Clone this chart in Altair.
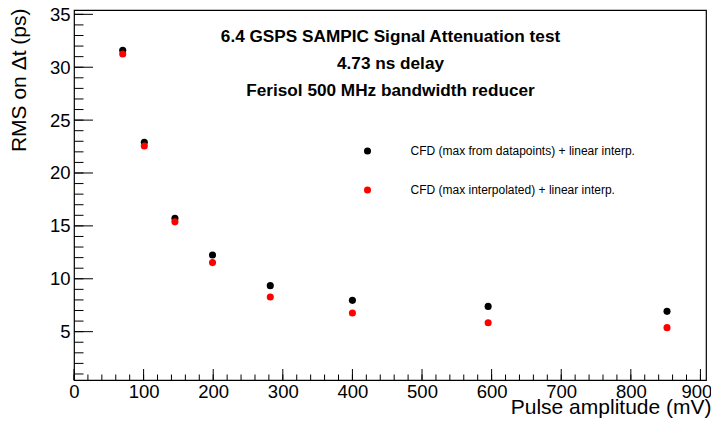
import altair as alt
import pandas as pd

# ---- data ----
amplitude = [70, 101, 145, 199, 282, 400, 595, 852]
rms_datapoints = [31.6, 22.9, 15.72, 12.25, 9.35, 7.96, 7.39, 6.92]
rms_interpolated = [31.25, 22.55, 15.38, 11.53, 8.28, 6.77, 5.85, 5.38]
series_names = [
    "CFD (max from datapoints) + linear interp.",
    "CFD (max interpolated) + linear interp.",
]
series_colors = ["black", "red"]
title_lines = [
    "6.4 GSPS SAMPIC Signal Attenuation test",
    "4.73 ns delay",
    "Ferisol 500 MHz bandwidth reducer",
]
x_title = "Pulse amplitude (mV)"
y_title = "RMS on \u0394t (ps)"
x_major = list(range(0, 901, 100))
x_minor = list(range(0, 901, 20))
y_major = list(range(5, 36, 5))
y_minor = list(range(1, 36))
x_domain = [0, 908]
y_domain = [0.43, 35.41]

FONT = "Liberation Sans"
W, H = 632, 370

rows = []
for name, vals in zip(series_names, [rms_datapoints, rms_interpolated]):
    for a, v in zip(amplitude, vals):
        rows.append({"amp": a, "rms": v, "series": name})
df = pd.DataFrame(rows)

xs = alt.Scale(domain=x_domain, nice=False, zero=False)
ys = alt.Scale(domain=y_domain, nice=False, zero=False)

x_axis = alt.Axis(
    values=x_major,
    format="d",
    ticks=False,
    tickSize=0,
    domain=False,
    grid=False,
    labelFont=FONT,
    labelFontSize=18.5,
    labelColor="black",
    labelBaseline="alphabetic",
    labelPadding=17.5,
    labelFlush=False,
    labelOverlap=False,
    labelOffset={"condition": {"test": "datum.value == 900", "value": -4}, "value": 0},
    title=x_title,
    titleFont=FONT,
    titleFontSize=21,
    titleFontWeight="normal",
    titleColor="black",
    titleAlign="right",
    titleBaseline="alphabetic",
    titleX=637,
    titleY=33,
)
y_axis = alt.Axis(
    values=y_major,
    format="d",
    ticks=False,
    tickSize=0,
    domain=False,
    grid=False,
    labelFont=FONT,
    labelFontSize=18.5,
    labelColor="black",
    labelPadding=4,
    labelFlush=False,
    labelOverlap=False,
    title=y_title,
    titleFont=FONT,
    titleFontSize=21,
    titleFontWeight="normal",
    titleColor="black",
    titleAngle=270,
    titleAlign="right",
    titleBaseline="top",
    titleX=-66,
    titleY=-2,
)

points = alt.Chart(df).mark_circle(size=50, opacity=1).encode(
    x=alt.X("amp:Q", scale=xs, axis=x_axis),
    y=alt.Y("rms:Q", scale=ys, axis=y_axis),
    color=alt.Color(
        "series:N",
        scale=alt.Scale(domain=series_names, range=series_colors),
        sort=series_names,
        legend=alt.Legend(
            title=None,
            orient="none",
            legendX=287.5,
            legendY=135,
            padding=0,
            symbolType="circle",
            symbolSize=50,
            symbolStrokeWidth=0,
            symbolOpacity=1,
            labelFont=FONT,
            labelFontSize=12,
            labelColor="black",
            labelLimit=0,
            labelOffset=37,
            rowPadding=27,
        ),
    ),
    order=alt.Order("series:N"),
)

def ticks_y(vals, length):
    return alt.Chart(pd.DataFrame({"rms": vals})).mark_rule(color="black", strokeWidth=1).encode(
        y=alt.Y("rms:Q", scale=ys, axis=y_axis),
        x=alt.value(0),
        x2=alt.value(length),
    )

def ticks_x(vals, length):
    return alt.Chart(pd.DataFrame({"amp": vals})).mark_rule(color="black", strokeWidth=1).encode(
        x=alt.X("amp:Q", scale=xs, axis=x_axis),
        y=alt.value(H),
        y2=alt.value(H - length),
    )

title_text = alt.Chart(pd.DataFrame({"a": [0]})).mark_text(
    text=title_lines,
    font=FONT,
    fontSize=17.2,
    fontWeight="bold",
    color="black",
    align="center",
    baseline="alphabetic",
    lineHeight=27.2,
).encode(x=alt.value(W / 2 + 0.5), y=alt.value(31.7))

chart = alt.layer(
    points,
    ticks_y(y_minor, 9.5),
    ticks_y(y_major, 19),
    ticks_x(x_minor, 5.5),
    ticks_x(x_major, 11),
    title_text,
).properties(
    width=W,
    height=H,
    autosize=alt.AutoSizeParams(type="none"),
    padding={"left": 66, "top": 2, "right": 5, "bottom": 38},
    background="white",
).configure_view(
    stroke="black", strokeWidth=1.2
)

chart.save("out.html", embed_options={"renderer": "svg", "actions": False})
